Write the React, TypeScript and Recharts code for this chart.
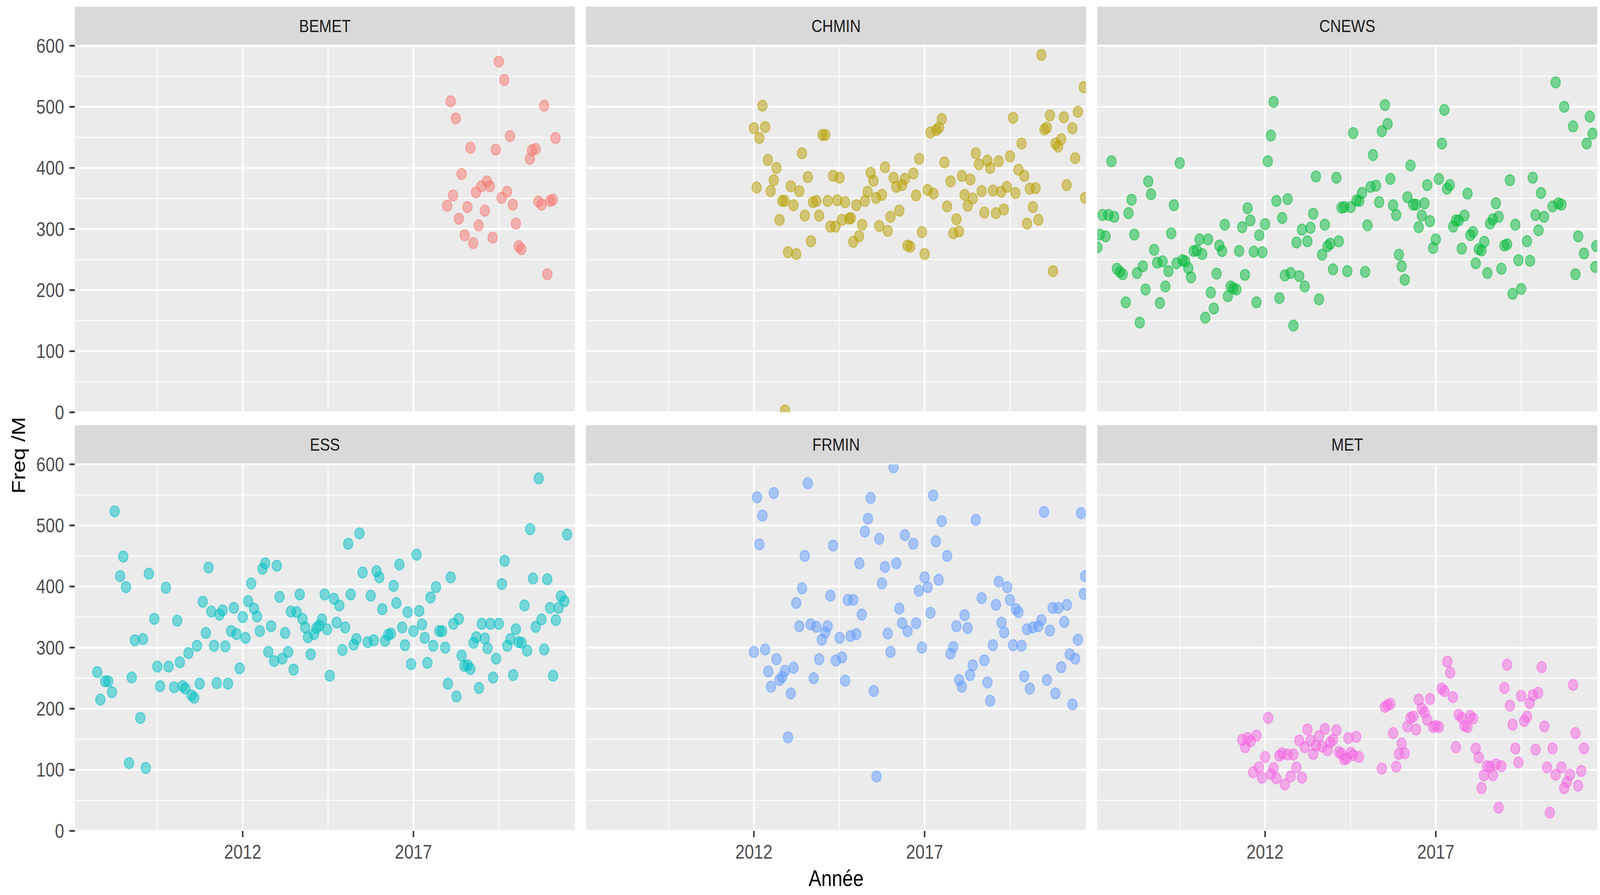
import React from "react";
import { ScatterChart, Scatter, XAxis, YAxis, CartesianGrid } from "recharts";

// facet names and ggplot hue colours
const panelNames = ["BEMET", "CHMIN", "CNEWS", "ESS", "FRMIN", "MET"];
const panelColors = ["#F8766D", "#B79F00", "#00BA38", "#00BFC4", "#619CFF", "#F564E3"];

const yearTicks = [2012, 2017];
const yearMinor = [2009.5, 2014.5, 2019.5];
const yearDomain = [2007.083, 2021.731];
const freqTicks = [0, 100, 200, 300, 400, 500, 600];
const freqMinor = [50, 150, 250, 350, 450, 550];

// [année (decimal), freq /M]
const BEMET: [number, number][] = [
  [2017.99, 338], [2018.09, 509], [2018.16, 355], [2018.24, 481], [2018.33, 317], [2018.41, 390],
  [2018.5, 290], [2018.58, 336], [2018.67, 433], [2018.75, 277], [2018.83, 360], [2018.91, 306],
  [2018.99, 370], [2019.09, 330], [2019.15, 378], [2019.24, 370], [2019.32, 286], [2019.41, 430],
  [2019.5, 574], [2019.58, 351], [2019.66, 544], [2019.74, 361], [2019.83, 452], [2019.91, 340],
  [2020.0, 309], [2020.08, 272], [2020.16, 267], [2020.41, 415], [2020.47, 429], [2020.58, 431],
  [2020.66, 345], [2020.75, 340], [2020.83, 502], [2020.92, 226], [2021.0, 346], [2021.08, 348],
  [2021.16, 449],
];

const CHMIN: [number, number][] = [
  [2012.0, 465], [2012.08, 368], [2012.16, 449], [2012.25, 502], [2012.33, 467], [2012.41, 413],
  [2012.49, 362], [2012.58, 380], [2012.66, 400], [2012.75, 315], [2012.83, 346], [2012.9, 346],
  [2012.91, 3], [2013.0, 262], [2013.08, 370], [2013.16, 339], [2013.24, 259], [2013.33, 362],
  [2013.41, 424], [2013.49, 322], [2013.58, 385], [2013.67, 280], [2013.73, 344], [2013.83, 346],
  [2013.91, 322], [2014.01, 454], [2014.09, 454], [2014.16, 346], [2014.24, 304], [2014.32, 387],
  [2014.39, 304], [2014.44, 347], [2014.51, 384], [2014.58, 315], [2014.67, 344], [2014.79, 317],
  [2014.84, 318], [2014.91, 279], [2015.0, 339], [2015.08, 288], [2015.17, 307], [2015.25, 346],
  [2015.33, 361], [2015.42, 392], [2015.5, 379], [2015.58, 351], [2015.67, 305], [2015.75, 356],
  [2015.84, 401], [2015.92, 297], [2016.0, 320], [2016.09, 384], [2016.17, 369], [2016.26, 330],
  [2016.34, 372], [2016.42, 382], [2016.5, 273], [2016.58, 271], [2016.67, 391], [2016.75, 355],
  [2016.84, 415], [2016.92, 295], [2017.0, 259], [2017.09, 364], [2017.17, 458], [2017.26, 358],
  [2017.34, 462], [2017.42, 466], [2017.5, 480], [2017.58, 409], [2017.66, 337], [2017.76, 378],
  [2017.84, 293], [2017.93, 316], [2018.01, 296], [2018.09, 387], [2018.17, 356], [2018.26, 338],
  [2018.34, 381], [2018.41, 350], [2018.5, 424], [2018.59, 406], [2018.67, 362], [2018.75, 327],
  [2018.84, 412], [2018.92, 400], [2019.0, 363], [2019.09, 326], [2019.17, 411], [2019.24, 361],
  [2019.32, 332], [2019.41, 369], [2019.5, 419], [2019.59, 482], [2019.66, 359], [2019.75, 397],
  [2019.84, 440], [2019.92, 387], [2020.0, 309], [2020.08, 366], [2020.17, 336], [2020.25, 367],
  [2020.33, 315], [2020.42, 585], [2020.51, 463], [2020.58, 466], [2020.67, 486], [2020.76, 231],
  [2020.83, 440], [2020.91, 435], [2021.0, 447], [2021.08, 483], [2021.16, 372], [2021.33, 465],
  [2021.41, 416], [2021.49, 492], [2021.66, 532], [2021.7, 351],
];

const CNEWS: [number, number][] = [
  [2007.09, 270], [2007.16, 291], [2007.24, 323], [2007.33, 288], [2007.41, 323], [2007.5, 411],
  [2007.58, 320], [2007.66, 235], [2007.75, 230], [2007.83, 226], [2007.92, 180], [2008.0, 326],
  [2008.09, 348], [2008.17, 291], [2008.25, 228], [2008.33, 147], [2008.42, 239], [2008.5, 201],
  [2008.58, 378], [2008.66, 357], [2008.75, 266], [2008.84, 245], [2008.92, 179], [2009.0, 247],
  [2009.08, 206], [2009.17, 231], [2009.25, 293], [2009.33, 339], [2009.41, 244], [2009.5, 408],
  [2009.58, 249], [2009.66, 247], [2009.75, 236], [2009.83, 221], [2009.91, 264], [2010.0, 265],
  [2010.08, 283], [2010.16, 259], [2010.25, 155], [2010.33, 283], [2010.41, 196], [2010.5, 170],
  [2010.58, 227], [2010.66, 273], [2010.74, 264], [2010.82, 307], [2010.91, 190], [2010.99, 206],
  [2011.07, 203], [2011.16, 201], [2011.24, 264], [2011.33, 303], [2011.41, 225], [2011.49, 334],
  [2011.57, 314], [2011.67, 263], [2011.75, 180], [2011.83, 290], [2011.92, 262], [2012.0, 308],
  [2012.08, 411], [2012.17, 453], [2012.25, 508], [2012.33, 346], [2012.42, 187], [2012.5, 318],
  [2012.58, 224], [2012.66, 349], [2012.75, 228], [2012.83, 142], [2012.92, 278], [2013.0, 223],
  [2013.08, 299], [2013.16, 206], [2013.24, 280], [2013.33, 302], [2013.41, 325], [2013.49, 386],
  [2013.58, 185], [2013.67, 258], [2013.75, 307], [2013.83, 272], [2013.91, 276], [2013.99, 234],
  [2014.09, 384], [2014.16, 280], [2014.24, 335], [2014.32, 336], [2014.41, 231], [2014.51, 336],
  [2014.58, 457], [2014.68, 347], [2014.76, 346], [2014.84, 359], [2014.93, 230], [2015.0, 306],
  [2015.09, 369], [2015.16, 421], [2015.25, 371], [2015.34, 344], [2015.42, 460], [2015.51, 503],
  [2015.59, 472], [2015.67, 382], [2015.75, 339], [2015.84, 323], [2015.92, 258], [2016.0, 239],
  [2016.09, 217], [2016.17, 352], [2016.26, 404], [2016.34, 340], [2016.42, 340], [2016.5, 303],
  [2016.59, 322], [2016.67, 342], [2016.75, 372], [2016.83, 313], [2016.92, 269], [2017.0, 283],
  [2017.09, 382], [2017.18, 440], [2017.25, 495], [2017.33, 366], [2017.41, 372], [2017.51, 304],
  [2017.59, 314], [2017.67, 314], [2017.76, 268], [2017.84, 322], [2017.93, 358], [2018.01, 290],
  [2018.09, 295], [2018.17, 244], [2018.26, 267], [2018.34, 265], [2018.42, 279], [2018.51, 228],
  [2018.59, 309], [2018.67, 316], [2018.76, 342], [2018.84, 320], [2018.92, 235], [2019.01, 273],
  [2019.09, 275], [2019.17, 380], [2019.25, 194], [2019.33, 307], [2019.42, 249], [2019.5, 202],
  [2019.67, 280], [2019.76, 248], [2019.84, 384], [2019.92, 323], [2020.01, 298], [2020.08, 359],
  [2020.17, 320], [2020.42, 337], [2020.51, 540], [2020.59, 342], [2020.68, 340], [2020.76, 500],
  [2021.02, 468], [2021.09, 226], [2021.17, 288], [2021.34, 260], [2021.42, 440], [2021.51, 484],
  [2021.59, 456], [2021.67, 238], [2021.7, 272],
];

const ESS: [number, number][] = [
  [2007.74, 260], [2007.83, 215], [2007.97, 245], [2008.06, 245], [2008.17, 227], [2008.25, 523],
  [2008.41, 417], [2008.5, 449], [2008.58, 399], [2008.67, 111], [2008.75, 251], [2008.84, 312],
  [2009.0, 185], [2009.08, 314], [2009.16, 103], [2009.25, 421], [2009.41, 347], [2009.5, 269],
  [2009.58, 237], [2009.75, 398], [2009.83, 269], [2009.99, 235], [2010.08, 344], [2010.16, 276],
  [2010.24, 237], [2010.32, 233], [2010.41, 291], [2010.5, 222], [2010.58, 218], [2010.66, 303],
  [2010.74, 241], [2010.83, 375], [2010.92, 324], [2011.0, 431], [2011.08, 359], [2011.16, 303],
  [2011.24, 242], [2011.32, 354], [2011.41, 361], [2011.49, 302], [2011.57, 241], [2011.66, 327],
  [2011.74, 365], [2011.82, 322], [2011.91, 266], [2012.0, 350], [2012.08, 316], [2012.16, 376],
  [2012.25, 405], [2012.33, 364], [2012.42, 351], [2012.5, 327], [2012.58, 429], [2012.66, 438],
  [2012.75, 293], [2012.83, 335], [2012.92, 278], [2013.0, 434], [2013.08, 383], [2013.16, 282],
  [2013.24, 324], [2013.33, 293], [2013.41, 359], [2013.49, 264], [2013.58, 358], [2013.67, 387],
  [2013.75, 347], [2013.83, 333], [2013.91, 317], [2013.99, 289], [2014.09, 322], [2014.16, 332],
  [2014.24, 336], [2014.32, 346], [2014.4, 387], [2014.47, 330], [2014.55, 254], [2014.67, 380],
  [2014.75, 341], [2014.83, 369], [2014.92, 296], [2015.0, 333], [2015.09, 470], [2015.16, 387],
  [2015.25, 305], [2015.33, 314], [2015.42, 487], [2015.51, 423], [2015.66, 309], [2015.75, 385],
  [2015.84, 312], [2015.92, 425], [2016.0, 415], [2016.09, 363], [2016.17, 311], [2016.26, 321],
  [2016.34, 323], [2016.42, 401], [2016.5, 373], [2016.59, 436], [2016.67, 333], [2016.75, 304],
  [2016.83, 358], [2016.93, 273], [2017.0, 327], [2017.09, 452], [2017.17, 360], [2017.25, 338],
  [2017.33, 316], [2017.41, 275], [2017.5, 382], [2017.58, 303], [2017.66, 399], [2017.76, 327],
  [2017.84, 327], [2017.93, 300], [2018.01, 241], [2018.09, 415], [2018.17, 339], [2018.26, 220],
  [2018.33, 347], [2018.41, 287], [2018.49, 270], [2018.59, 271], [2018.67, 265], [2018.76, 308],
  [2018.84, 317], [2018.92, 234], [2019.0, 339], [2019.09, 315], [2019.17, 299], [2019.25, 339],
  [2019.33, 251], [2019.42, 282], [2019.5, 339], [2019.59, 404], [2019.67, 442], [2019.75, 303],
  [2019.84, 314], [2019.92, 255], [2020.0, 330], [2020.08, 309], [2020.17, 308], [2020.25, 369],
  [2020.33, 295], [2020.42, 494], [2020.5, 413], [2020.58, 334], [2020.67, 577], [2020.75, 346],
  [2020.83, 297], [2020.92, 412], [2021.0, 365], [2021.09, 254], [2021.17, 345], [2021.25, 365],
  [2021.32, 384], [2021.42, 376], [2021.5, 485],
];

const FRMIN: [number, number][] = [
  [2012.0, 293], [2012.09, 546], [2012.16, 469], [2012.25, 516], [2012.33, 297], [2012.42, 261],
  [2012.5, 236], [2012.58, 553], [2012.66, 281], [2012.75, 247], [2012.83, 252], [2012.91, 262],
  [2013.0, 153], [2013.08, 225], [2013.16, 267], [2013.24, 373], [2013.33, 335], [2013.41, 397],
  [2013.49, 450], [2013.58, 569], [2013.66, 338], [2013.75, 250], [2013.83, 334], [2013.91, 281],
  [2013.99, 313], [2014.09, 325], [2014.16, 335], [2014.24, 385], [2014.32, 467], [2014.4, 279],
  [2014.51, 316], [2014.58, 284], [2014.67, 246], [2014.75, 378], [2014.83, 319], [2014.91, 378],
  [2015.0, 322], [2015.09, 438], [2015.16, 354], [2015.25, 490], [2015.34, 511], [2015.42, 545],
  [2015.51, 229], [2015.59, 89], [2015.67, 478], [2015.75, 405], [2015.84, 432], [2015.92, 323],
  [2016.0, 293], [2016.09, 595], [2016.17, 438], [2016.26, 364], [2016.34, 340], [2016.42, 484],
  [2016.5, 327], [2016.67, 470], [2016.75, 340], [2016.83, 393], [2016.92, 300], [2017.0, 415],
  [2017.09, 399], [2017.17, 357], [2017.25, 549], [2017.33, 474], [2017.41, 411], [2017.5, 507],
  [2017.66, 450], [2017.76, 290], [2017.84, 301], [2017.93, 335], [2018.01, 247], [2018.09, 236],
  [2018.17, 353], [2018.26, 332], [2018.33, 255], [2018.41, 271], [2018.5, 509], [2018.67, 381],
  [2018.75, 279], [2018.84, 243], [2018.92, 213], [2019.0, 304], [2019.09, 370], [2019.17, 408],
  [2019.25, 341], [2019.33, 325], [2019.42, 399], [2019.5, 378], [2019.59, 304], [2019.67, 363],
  [2019.75, 358], [2019.84, 303], [2019.92, 253], [2020.0, 330], [2020.08, 233], [2020.17, 333],
  [2020.33, 335], [2020.42, 345], [2020.5, 522], [2020.58, 247], [2020.67, 328], [2020.75, 365],
  [2020.83, 225], [2020.92, 365], [2021.0, 268], [2021.09, 342], [2021.17, 370], [2021.25, 289],
  [2021.33, 207], [2021.41, 282], [2021.49, 313], [2021.58, 520], [2021.66, 388], [2021.7, 417],
];

const MET: [number, number][] = [
  [2011.33, 149], [2011.42, 137], [2011.49, 152], [2011.58, 147], [2011.65, 96], [2011.75, 156],
  [2011.82, 104], [2011.91, 87], [2012.0, 121], [2012.09, 185], [2012.17, 93], [2012.25, 103],
  [2012.33, 86], [2012.42, 123], [2012.5, 127], [2012.58, 76], [2012.66, 125], [2012.75, 89],
  [2012.83, 125], [2012.92, 104], [2013.0, 148], [2013.08, 87], [2013.16, 137], [2013.24, 166],
  [2013.33, 148], [2013.41, 126], [2013.49, 140], [2013.58, 155], [2013.67, 138], [2013.75, 167],
  [2013.83, 132], [2013.91, 145], [2013.99, 149], [2014.09, 165], [2014.16, 129], [2014.24, 126],
  [2014.32, 117], [2014.39, 119], [2014.44, 152], [2014.51, 128], [2014.58, 124], [2014.67, 154],
  [2014.75, 121], [2015.42, 102], [2015.51, 203], [2015.59, 206], [2015.67, 208], [2015.75, 160],
  [2015.84, 105], [2015.92, 126], [2016.0, 143], [2016.09, 127], [2016.17, 171], [2016.26, 185],
  [2016.34, 187], [2016.42, 166], [2016.5, 215], [2016.59, 200], [2016.67, 194], [2016.75, 182],
  [2016.83, 216], [2016.92, 170], [2017.0, 172], [2017.09, 170], [2017.17, 233], [2017.25, 229],
  [2017.34, 277], [2017.42, 259], [2017.5, 219], [2017.59, 137], [2017.67, 190], [2017.76, 185],
  [2017.84, 172], [2017.93, 170], [2018.01, 188], [2018.09, 184], [2018.17, 135], [2018.26, 120],
  [2018.34, 70], [2018.41, 91], [2018.5, 106], [2018.59, 105], [2018.67, 91], [2018.76, 109],
  [2018.84, 38], [2018.92, 106], [2019.01, 234], [2019.09, 272], [2019.17, 205], [2019.25, 174],
  [2019.33, 135], [2019.42, 112], [2019.5, 221], [2019.59, 180], [2019.67, 187], [2019.75, 209],
  [2019.84, 222], [2019.92, 133], [2020.0, 226], [2020.1, 268], [2020.18, 171], [2020.26, 104],
  [2020.34, 30], [2020.42, 135], [2020.51, 92], [2020.68, 104], [2020.76, 70], [2020.84, 80],
  [2020.93, 92], [2021.02, 239], [2021.09, 160], [2021.17, 74], [2021.26, 98], [2021.34, 135],
];

const panelData = [BEMET, CHMIN, CNEWS, ESS, FRMIN, MET];

// layout, in reference-image pixels (4789 x 2290); the figure is then fitted to the window
const FIG_W = 4789;
const FIG_H = 2290;
const PLOT_W = 1497;
const PLOT_H = 938;
const STRIP_H = 100;
const COL_X = [224, 1754, 3284];
const ROW_Y = [117, 1188];
const Y_AXIS_W = 190;
const X_AXIS_H = 100;
const PAD = 40; // room for tick labels sitting on the panel edge
const FONT = "'Liberation Sans', Arial, Helvetica, sans-serif";

function Dot(props: any) {
  const { cx, cy, fill } = props;
  if (cx == null || cy == null) return null;
  return (
    <circle
      cx={cx}
      cy={cy}
      r={14}
      fill={fill}
      fillOpacity={0.5}
      stroke={fill}
      strokeOpacity={0.5}
      strokeWidth={3}
    />
  );
}

function Panel(props: { idx: number }) {
  const { idx } = props;
  const col = idx % 3;
  const row = Math.floor(idx / 3);
  const showY = col === 0;
  const showX = row === 1;
  const bottom = showX ? X_AXIS_H : PAD;
  const w = PLOT_W + (showY ? Y_AXIS_W : 0);
  const h = PAD + PLOT_H + bottom;
  const left = COL_X[col] - (showY ? Y_AXIS_W : 0);
  const top = ROW_Y[row] - PAD;
  const data = panelData[idx].map(([x, y]) => ({ x, y }));

  return (
    <>
      <div
        style={{
          position: "absolute",
          left: COL_X[col],
          top: ROW_Y[row] - STRIP_H,
          width: PLOT_W,
          height: STRIP_H,
          background: "#D9D9D9",
          color: "#1A1A1A",
          fontFamily: FONT,
          fontSize: 45,
          display: "flex",
          alignItems: "center",
          justifyContent: "center",
        }}
      >
        {panelNames[idx]}
      </div>
      <div style={{ position: "absolute", left, top }}>
        <ScatterChart
          width={w}
          height={h}
          margin={{ top: PAD, right: 0, bottom: showX ? 0 : PAD, left: 0 }}
        >
          <CartesianGrid
            fill="#EBEBEB"
            fillOpacity={1}
            stroke="#FFFFFF"
            strokeWidth={2.5}
            horizontalValues={freqMinor}
            verticalValues={yearMinor}
          />
          <CartesianGrid
            stroke="#FFFFFF"
            strokeWidth={5}
            horizontalValues={freqTicks}
            verticalValues={yearTicks}
          />
          <XAxis
            type="number"
            dataKey="x"
            domain={yearDomain}
            ticks={yearTicks}
            allowDataOverflow
            hide={!showX}
            height={X_AXIS_H}
            interval={0}
            axisLine={false}
            tickSize={16}
            tickMargin={20}
            tickLine={{ stroke: "#333333", strokeWidth: 4.5 }}
            tick={{ fontSize: 50, fill: "#4D4D4D", fontFamily: FONT }}
          />
          <YAxis
            type="number"
            dataKey="y"
            domain={[0, 600]}
            ticks={freqTicks}
            allowDataOverflow
            hide={!showY}
            width={Y_AXIS_W}
            interval={0}
            axisLine={false}
            tickSize={16}
            tickMargin={16}
            tickLine={{ stroke: "#333333", strokeWidth: 4.5 }}
            tick={{ fontSize: 50, fill: "#4D4D4D", fontFamily: FONT }}
          />
          <Scatter
            data={data}
            fill={panelColors[idx]}
            shape={<Dot />}
            isAnimationActive={false}
          />
        </ScatterChart>
      </div>
    </>
  );
}

export default function App() {
  const vw = typeof window !== "undefined" ? window.innerWidth : FIG_W;
  const vh = typeof window !== "undefined" ? window.innerHeight : FIG_H;
  const sx = vw / FIG_W;
  const sy = vh / FIG_H;
  return (
    <div
      style={{
        position: "absolute",
        left: 0,
        top: 0,
        width: vw,
        height: vh,
        overflow: "hidden",
        background: "#FFFFFF",
      }}
    >
      <div
        style={{
          position: "absolute",
          left: 0,
          top: 0,
          width: FIG_W,
          height: FIG_H,
          transform: `scale(${sx}, ${sy})`,
          transformOrigin: "0 0",
          background: "#FFFFFF",
        }}
      >
        {panelNames.map((_, i) => (
          <Panel key={i} idx={i} />
        ))}
        <div
          style={{
            position: "absolute",
            left: COL_X[0],
            width: COL_X[2] + PLOT_W - COL_X[0],
            top: 2212,
            textAlign: "center",
            fontFamily: FONT,
            fontSize: 57,
            color: "#000000",
            lineHeight: "70px",
          }}
        >
          Année
        </div>
        <div
          style={{
            position: "absolute",
            left: 55,
            top: 1165,
            transform: "translate(-50%, -50%) rotate(-90deg)",
            fontFamily: FONT,
            fontSize: 57,
            color: "#000000",
            whiteSpace: "nowrap",
            lineHeight: "70px",
          }}
        >
          Freq /M
        </div>
      </div>
    </div>
  );
}
